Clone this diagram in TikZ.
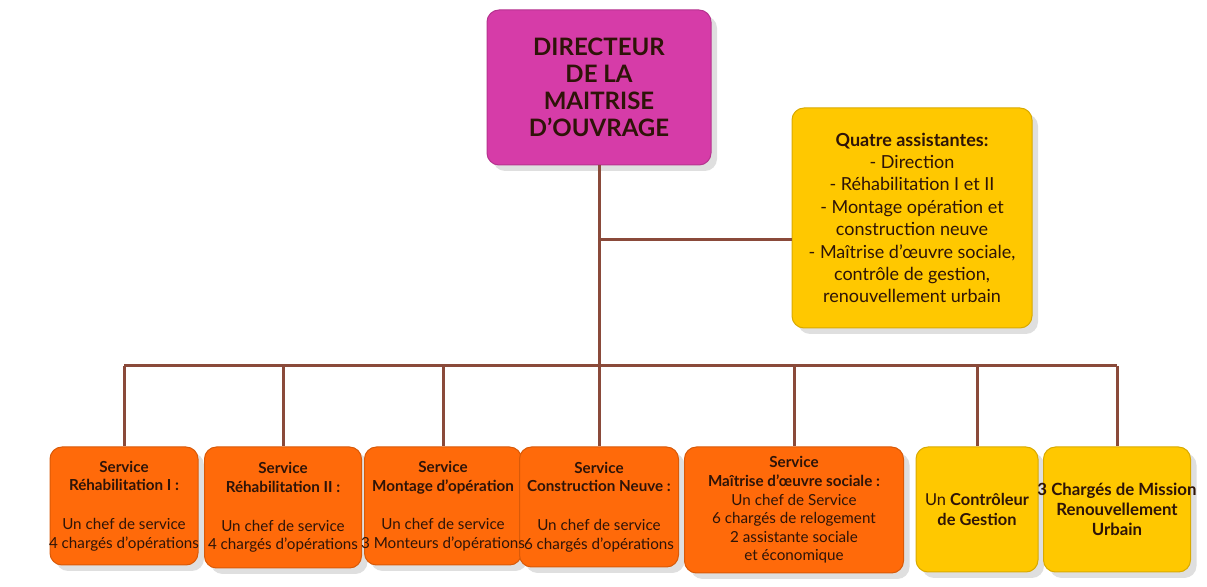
\documentclass[tikz,border=0pt]{standalone}
\usepackage{fontspec}
\setmainfont{Lato}
\usetikzlibrary{positioning, shadows}
\definecolor{fuchsia}{HTML}{D63CA8}
\definecolor{gold}{HTML}{FFC800}
\definecolor{tangerine}{HTML}{FF6A0A}
\definecolor{rust}{HTML}{8A4A3A}
\definecolor{ink}{HTML}{2E1408}
\tikzset{
  box/.style={rectangle, rounded corners=6pt, draw=tangerine!85!black, line width=0.5pt,
    fill=tangerine, text=ink, align=center, inner sep=1pt,
    font=\fontsize{7.6}{9.3}\selectfont,
    drop shadow={opacity=0.25, shadow xshift=3pt, shadow yshift=-3pt}},
  boxGold/.style={box, fill=gold, draw=gold!85!black},
  boxPink/.style={box, fill=fuchsia, draw=fuchsia!85!black,
    font=\bfseries\fontsize{12}{13.5}\selectfont},
  boxtext/.style={text=ink, align=center, inner sep=0pt,
    font=\fontsize{7.6}{9.3}\selectfont},
  link/.style={draw=rust, line width=1.5pt},
}
\begin{document}
\begin{tikzpicture}[x=0.5pt, y=-0.5pt]
\useasboundingbox (0,0) rectangle (1207,587);
% top of the chart
\node[boxPink, minimum width=112pt, minimum height=77.5pt] (dir) at (599,87.5)
  {DIRECTEUR\\DE LA\\MAITRISE\\D'OUVRAGE};
\node[boxGold, minimum width=120pt, minimum height=110pt,
  font=\fontsize{9}{11.2}\selectfont] (asst) at (912,218)
  {\textbf{Quatre assistantes:}\\- Direction\\- Réhabilitation I et II\\- Montage opération et\\construction neuve\\- Maîtrise d'œuvre sociale,\\contrôle de gestion,\\renouvellement urbain};
% services (boxes first, texts on top so they may run over the edges)
\node[box, minimum width=74pt, minimum height=59pt] (s1) at (124,506) {};
\node[box, minimum width=78.5pt, minimum height=60.5pt] (s2) at (283,507.5) {};
\node[box, minimum width=78.5pt, minimum height=59pt] (s3) at (443,506) {};
\node[box, minimum width=79.5pt, minimum height=60pt] (s4) at (599,507) {};
\node[box, minimum width=109.5pt, minimum height=63pt] (s5) at (794,510) {};
\node[boxGold, minimum width=61pt, minimum height=62.5pt] (s6) at (977,509.5) {};
\node[boxGold, minimum width=73.5pt, minimum height=62.5pt] (s7) at (1117,509.5) {};
\node[boxtext] (s1-text) at (s1)
  {\textbf{Service}\\\textbf{Réhabilitation I :}\\[10pt]Un chef de service\\4 chargés d'opérations};
\node[boxtext] (s2-text) at (s2)
  {\textbf{Service}\\\textbf{Réhabilitation II :}\\[10pt]Un chef de service\\4 chargés d'opérations};
\node[boxtext] (s3-text) at (s3)
  {\textbf{Service}\\\textbf{Montage d'opération}\\[10pt]Un chef de service\\3 Monteurs d'opérations};
\node[boxtext] (s4-text) at (s4)
  {\textbf{Service}\\\textbf{Construction Neuve :}\\[10pt]Un chef de service\\6 chargés d'opérations};
\node[boxtext] (s5-text) at (s5)
  {\textbf{Service}\\\textbf{Maîtrise d'œuvre sociale :}\\Un chef de Service\\6 chargés de relogement\\2 assistante sociale\\et économique};
\node[boxtext, font=\fontsize{8.2}{10}\selectfont] (s6-text) at (s6)
  {Un \textbf{Contrôleur}\\\textbf{de Gestion}};
\node[boxtext, font=\bfseries\fontsize{8.4}{10}\selectfont] (s7-text) at (s7)
  {3 Chargés de Mission\\Renouvellement\\Urbain};
% connectors
\coordinate (bus) at (599,366);
\coordinate (fork) at (599,240);
\draw[link] (dir.south) -- (bus);
\draw[link] (fork) -- (asst.west |- fork);
\draw[link] (s1.north |- bus) -- (s7.north |- bus);
\foreach \s in {s1,s2,s3,s4,s5,s6,s7}
  \draw[link] (\s.north |- bus) -- (\s.north);
\end{tikzpicture}
\end{document}
